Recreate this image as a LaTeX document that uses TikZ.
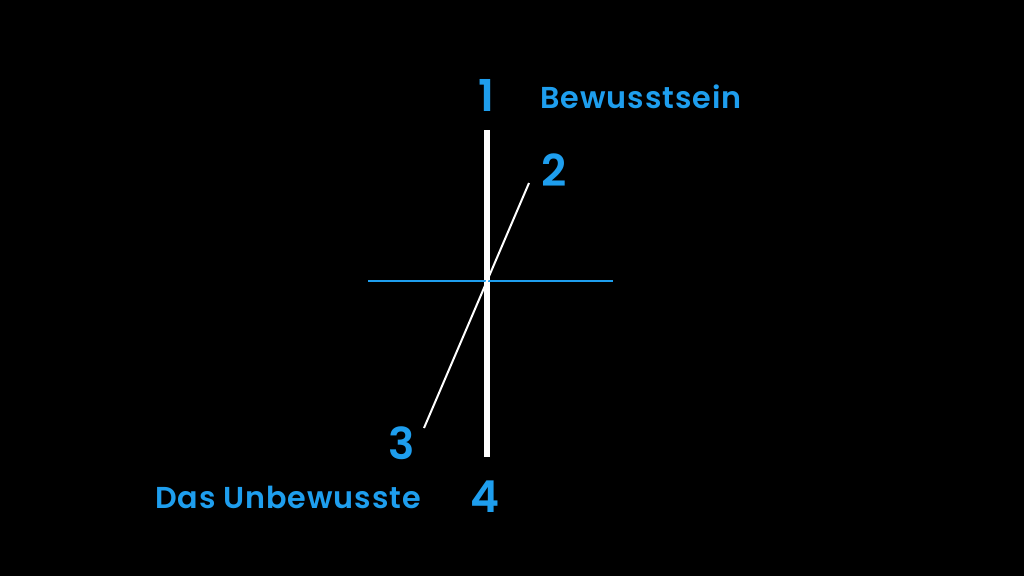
\documentclass[tikz,border=0pt]{standalone}
\usepackage{fontspec}
\setmainfont{Poppins}[UprightFont=* SemiBold,BoldFont=* Bold]
\definecolor{skyblue}{HTML}{1E9EEE}
\tikzset{
  num/.style={text=skyblue, font=\fontsize{12.5}{13}\selectfont, inner sep=0pt},
  word/.style={text=skyblue, font=\addfontfeatures{LetterSpace=3}\fontsize{8.6}{9}\selectfont, inner sep=0pt},
}
\begin{document}
\begin{tikzpicture}
			%%%%% BACKGROUND %%%%%
			\fill[black] (0, 0) rectangle (10.24, 5.76);
			\useasboundingbox (0, 0) rectangle (10.24, 5.76);
			
			\coordinate (top) at (4.87, 4.46);
			\coordinate (bottom) at (4.87, 1.19);
			\coordinate (left) at (3.68, 2.95);
			\coordinate (right) at (6.13, 2.95);
			\coordinate (upper) at (5.29, 3.93);
			\coordinate (lower) at (4.24, 1.48);
			
			\draw[line width=0.06cm, color=white] (top) -- (bottom);
			\draw[line width=0.02cm, color=skyblue] (left) -- (right);
			\draw[line width=0.02cm, color=white] (lower) -- (upper);
			
			\node[num] (one) at (4.86, 4.81) {1};
			\node[word] (bewusst) at (6.41, 4.79) {Bewusstsein};
			\node[num] (two) at (5.54, 4.06) {2};
			\node[num] (three) at (4.02, 1.33) {3};
			\node[word] (unbewusst) at (2.88, 0.79) {Das Unbewusste};
			\node[num] (four) at (4.85, 0.79) {4};
			
			%%%%% END %%%%%
\end{tikzpicture}
\end{document}
